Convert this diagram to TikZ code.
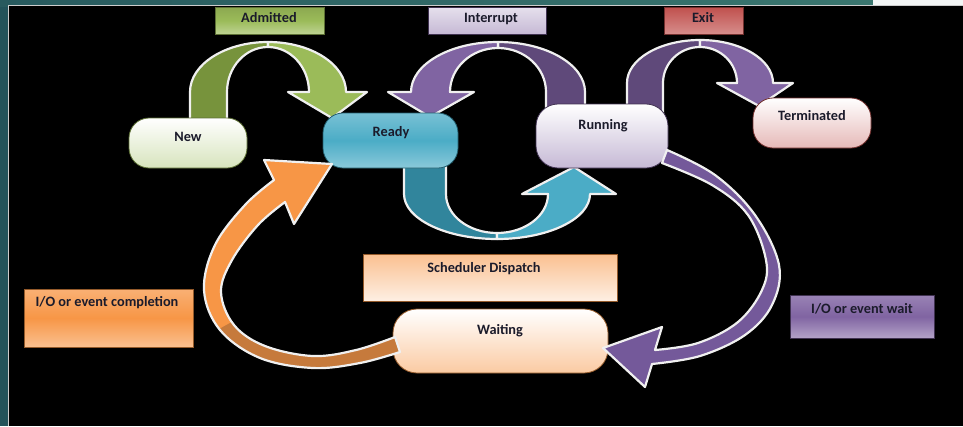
\documentclass[tikz,border=0pt]{standalone}
\usepackage{fontspec}
\setmainfont{Carlito}
\definecolor{frame}{HTML}{23535A}
\definecolor{framehi}{HTML}{3A766F}
\definecolor{rim}{HTML}{F0F0F0}
\definecolor{ink}{HTML}{1B1B2B}
\definecolor{gdark}{HTML}{77933C}
\definecolor{glight}{HTML}{9BBB59}
\definecolor{pdark}{HTML}{5F497A}
\definecolor{plight}{HTML}{8064A2}
\definecolor{tdark}{HTML}{31859C}
\definecolor{tlight}{HTML}{4BACC6}
\definecolor{orng}{HTML}{F79646}
\definecolor{orngdark}{HTML}{C67A3C}
\definecolor{pwait}{HTML}{74599A}
\definecolor{exitred}{HTML}{C0504D}
\begin{document}
\begin{tikzpicture}[x=1pt,y=-1pt,
  lbl/.style={font=\bfseries\fontsize{14.3}{17}\selectfont, text=ink, inner sep=0pt, text height=9.5pt, text depth=2.5pt},
  pill/.style={rounded corners=20pt, line width=0.8pt, inner sep=0pt},
  tag/.style={line width=0.8pt, inner sep=0pt},
  band/.style={draw=rim, line width=2.2pt, line join=round}]
\useasboundingbox (0,0) rectangle (963,426);

% window frame
\fill[frame] (0,0) rectangle (963,426);
\shade[left color=frame!80!framehi, right color=framehi] (0,0) rectangle (873,6);
\fill[white!94!frame] (873,0) rectangle (963,6);
\fill[black] (9,6) rectangle (963,426);
\draw[white!80!black, line width=1pt] (8.5,426) -- (8.5,5.5) -- (963,5.5);

% Admitted: New -> Ready
\filldraw[band, fill=gdark] (190,122) -- (190,92)
  arc[start angle=180, end angle=270, x radius=78, y radius=50]
  -- (268,47) arc[start angle=270, end angle=180, x radius=41, y radius=45]
  -- (227,122) -- cycle;
\filldraw[band, fill=glight] (268,42)
  arc[start angle=270, end angle=360, x radius=78, y radius=50]
  -- (367,92) -- (332,118) -- (288,92) -- (309,92)
  arc[start angle=0, end angle=-90, x radius=41, y radius=45] -- cycle;

% Interrupt: Running -> Ready
\filldraw[band, fill=pdark] (585,112) -- (585,92)
  arc[start angle=360, end angle=270, x radius=87, y radius=50]
  -- (498,48) arc[start angle=270, end angle=360, x radius=48, y radius=44]
  -- (546,112) -- cycle;
\filldraw[band, fill=plight] (498,42)
  arc[start angle=270, end angle=180, x radius=87, y radius=50]
  -- (388,92) -- (430,117) -- (474,92) -- (450,92)
  arc[start angle=180, end angle=270, x radius=48, y radius=44] -- cycle;

% Exit: Running -> Terminated
\filldraw[band, fill=pdark] (627,114) -- (627,83)
  arc[start angle=180, end angle=270, x radius=73, y radius=43]
  -- (700,47) arc[start angle=270, end angle=180, x radius=37, y radius=36]
  -- (663,114) -- cycle;
\filldraw[band, fill=plight] (700,40)
  arc[start angle=270, end angle=360, x radius=73, y radius=43]
  -- (793,83) -- (759,106) -- (717,83) -- (737,83)
  arc[start angle=0, end angle=-90, x radius=37, y radius=36] -- cycle;

% Scheduler dispatch: Ready -> Running
\filldraw[band, fill=tdark] (404,160) -- (404,194)
  arc[start angle=180, end angle=90, x radius=93, y radius=45]
  -- (497,233) arc[start angle=90, end angle=180, x radius=51, y radius=39]
  -- (446,160) -- cycle;
\filldraw[band, fill=tlight] (497,239)
  arc[start angle=90, end angle=0, x radius=93, y radius=45]
  -- (616,194) -- (574,167) -- (522,194) -- (548,194)
  arc[start angle=0, end angle=90, x radius=51, y radius=39] -- cycle;

% states
\node[pill, draw=glight!60!black, top color=white, bottom color=glight!40!white,
      minimum width=118pt, minimum height=50pt] (new) at (188,143) {};
\node[pill, draw=tdark!70!black, top color=tlight!75!white, bottom color=tlight!65!white,
      middle color=tlight, minimum width=135pt, minimum height=55pt] (ready) at (390.5,140.5) {};
\node[pill, rounded corners=22pt, draw=plight!50!black, top color=white, bottom color=plight!45!white,
      minimum width=132pt, minimum height=64pt] (running) at (602,136) {};
\node[pill, draw=exitred!60!black, top color=white, bottom color=exitred!40!white,
      minimum width=118pt, minimum height=50pt] (terminated) at (812,123) {};
\node[pill, rounded corners=24pt, draw=orng!60!black, top color=white, bottom color=orng!50!white,
      minimum width=215pt, minimum height=64pt] (waiting) at (500.5,341) {};

% transition tags
\node[tag, draw=glight!60!black, top color=glight!90!black, bottom color=glight!65!white,
      middle color=glight, minimum width=109pt, minimum height=27pt] (admitted) at (269.5,20.5) {};
\node[tag, draw=plight!50!black, top color=plight!20!white, bottom color=plight!45!white,
      minimum width=118pt, minimum height=27pt] (interrupt) at (487,20.5) {};
\node[tag, draw=exitred!60!black, top color=exitred, bottom color=exitred!65!white,
      minimum width=79pt, minimum height=27pt] (exit) at (703.5,20.5) {};
\node[tag, draw=orng!60!black, top color=orng!60!white, bottom color=orng!15!white,
      minimum width=254pt, minimum height=47pt] (dispatch) at (490,277.5) {};
\node[tag, draw=orng!60!black, top color=orng!75!white, bottom color=orng!60!white,
      middle color=orng, minimum width=169pt, minimum height=58pt] (iodone) at (108.5,318) {};
\node[tag, draw=plight!50!black, top color=plight!80!white, bottom color=plight!60!white,
      middle color=plight, minimum width=144pt, minimum height=43pt] (iowait) at (862,316.5) {};

% I/O or event completion: Waiting -> Ready
\def\orangepath{plot[smooth, tension=0.6] coordinates {(400,352) (360,363) (313,368) (260,358) (220,330) (204,290) (215,245) (245,205) (274,180)}
  -- (264,160) -- (332,164) -- (294,224) -- (285,202)
  -- plot[smooth, tension=0.6] coordinates {(285,202) (258,225) (232,260) (221,292) (234,325) (265,346) (313,356) (356,350) (395,337)}
  -- cycle}
\fill[orng] \orangepath;
\begin{scope}
  \clip \orangepath;
  \fill[orngdark] (190,345) -- (250,312) -- (420,312) -- (420,390) -- (190,390) -- cycle;
\end{scope}
\draw[band] \orangepath;

% I/O or event wait: Running -> Waiting
\filldraw[band, fill=pwait]
  plot[smooth, tension=0.6] coordinates {(667,150) (715,175) (755,215) (779,265) (772,305) (745,335) (700,356) (652,364)}
  -- (645,387) -- (603,348) -- (662,327) -- (655,350)
  -- plot[smooth, tension=0.6] coordinates {(655,350) (698,343) (738,322) (762,290) (766,260) (748,215) (712,185) (662,163)}
  -- cycle;

% texts
\node[lbl] (tnew) at (188,138) {New};
\node[lbl] (tready) at (391,133) {Ready};
\node[lbl] (trunning) at (603,126) {Running};
\node[lbl] (tterminated) at (812,117) {Terminated};
\node[lbl] (twaiting) at (500,331) {Waiting};
\node[lbl] (tadmitted) at (269,19) {Admitted};
\node[lbl] (tinterrupt) at (491,19) {Interrupt};
\node[lbl] (texit) at (703,19) {Exit};
\node[lbl] (tdispatch) at (484,269) {Scheduler Dispatch};
\node[lbl] (tiodone) at (107,303) {I/O or event completion};
\node[lbl] (tiowait) at (862,310) {I/O or event wait};
\end{tikzpicture}
\end{document}
